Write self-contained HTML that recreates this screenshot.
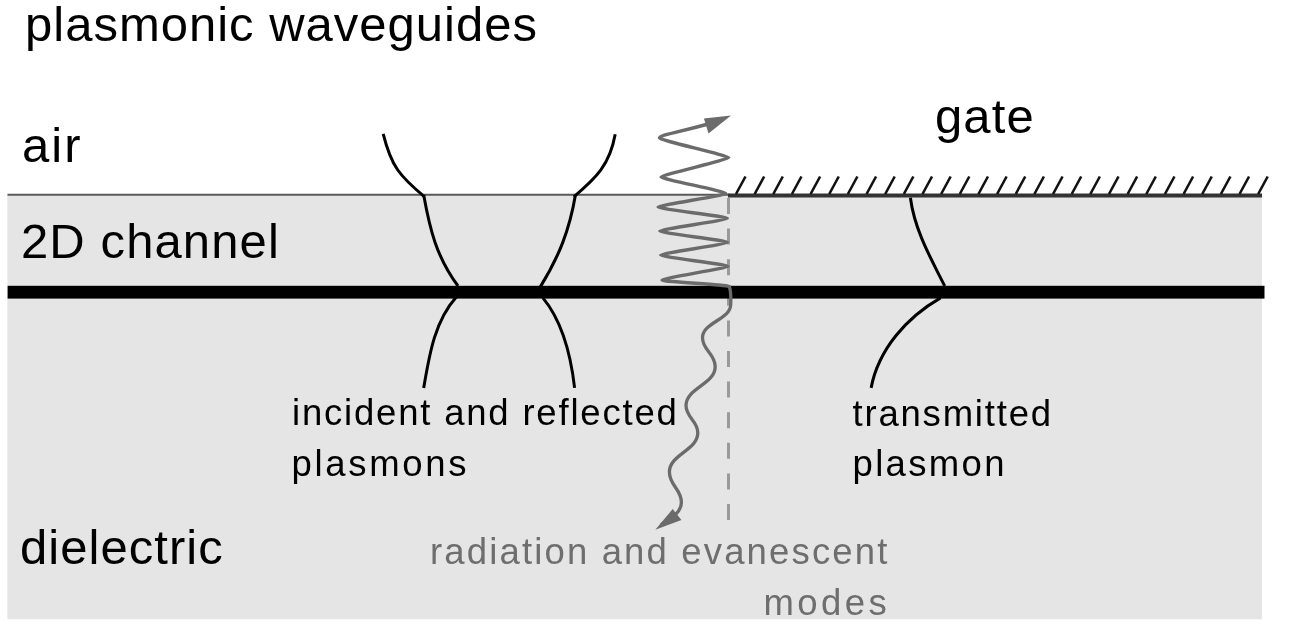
<!DOCTYPE html>
<html><head><meta charset="utf-8">
<style>
html,body{margin:0;padding:0;background:#fff;width:1294px;height:642px;overflow:hidden}
svg{display:block;will-change:transform}
text{font-family:"Liberation Sans",sans-serif}
.big{font-size:49px;fill:#000}
.sm{font-size:36.5px;fill:#000}
.gr{font-size:36.5px;fill:#6e6e6e}
</style></head>
<body>
<svg width="1294" height="642" viewBox="0 0 1294 642">
<rect x="0" y="0" width="1294" height="642" fill="#fff"/>
<rect x="7.4" y="194" width="1254.6" height="425.3" fill="#e5e5e5"/>
<line x1="7.5" y1="194.7" x2="730" y2="194.7" stroke="#5a5a5a" stroke-width="2"/>
<line x1="728" y1="195.5" x2="1262" y2="195.5" stroke="#333" stroke-width="4.2"/>
<g stroke="#111" stroke-width="2.6">
<line x1="736" y1="194" x2="745.5" y2="176.5"/>
<line x1="754.65" y1="194" x2="764.15" y2="176.5"/>
<line x1="773.3" y1="194" x2="782.8" y2="176.5"/>
<line x1="791.95" y1="194" x2="801.45" y2="176.5"/>
<line x1="810.6" y1="194" x2="820.1" y2="176.5"/>
<line x1="829.25" y1="194" x2="838.75" y2="176.5"/>
<line x1="847.9" y1="194" x2="857.4" y2="176.5"/>
<line x1="866.55" y1="194" x2="876.05" y2="176.5"/>
<line x1="885.2" y1="194" x2="894.7" y2="176.5"/>
<line x1="903.85" y1="194" x2="913.35" y2="176.5"/>
<line x1="922.5" y1="194" x2="932" y2="176.5"/>
<line x1="941.15" y1="194" x2="950.65" y2="176.5"/>
<line x1="959.8" y1="194" x2="969.3" y2="176.5"/>
<line x1="978.45" y1="194" x2="987.95" y2="176.5"/>
<line x1="997.1" y1="194" x2="1006.6" y2="176.5"/>
<line x1="1015.75" y1="194" x2="1025.25" y2="176.5"/>
<line x1="1034.4" y1="194" x2="1043.9" y2="176.5"/>
<line x1="1053.05" y1="194" x2="1062.55" y2="176.5"/>
<line x1="1071.7" y1="194" x2="1081.2" y2="176.5"/>
<line x1="1090.35" y1="194" x2="1099.85" y2="176.5"/>
<line x1="1109" y1="194" x2="1118.5" y2="176.5"/>
<line x1="1127.65" y1="194" x2="1137.15" y2="176.5"/>
<line x1="1146.3" y1="194" x2="1155.8" y2="176.5"/>
<line x1="1164.95" y1="194" x2="1174.45" y2="176.5"/>
<line x1="1183.6" y1="194" x2="1193.1" y2="176.5"/>
<line x1="1202.25" y1="194" x2="1211.75" y2="176.5"/>
<line x1="1220.9" y1="194" x2="1230.4" y2="176.5"/>
<line x1="1239.55" y1="194" x2="1249.05" y2="176.5"/>
<line x1="1258.2" y1="194" x2="1267.7" y2="176.5"/>
</g>
<line x1="728.5" y1="197" x2="728.5" y2="520" stroke="#9a9a9a" stroke-width="3" stroke-dasharray="16 14.6" stroke-dashoffset="-1"/>
<rect x="7.6" y="285.8" width="1256.9" height="12.8" fill="#000"/>
<text class="big" x="25" y="40.7" letter-spacing="1">plasmonic waveguides</text>
<text class="big" x="22" y="161.8" letter-spacing="2">air</text>
<text class="big" x="21" y="258" letter-spacing="1.1">2D channel</text>
<text class="big" x="935" y="133" letter-spacing="1.1">gate</text>
<text class="big" x="20" y="563.5" letter-spacing="1.05">dielectric</text>
<text class="sm" x="292" y="424.7" letter-spacing="1.8">incident and reflected</text>
<text class="sm" x="291.5" y="475.8" letter-spacing="2.7">plasmons</text>
<text class="sm" x="852.5" y="425.8" letter-spacing="1.8">transmitted</text>
<text class="sm" x="852.5" y="476" letter-spacing="2.35">plasmon</text>
<text class="gr" x="430" y="564" letter-spacing="2.15">radiation and evanescent</text>
<text class="gr" x="763.5" y="615" letter-spacing="3.4">modes</text>
<g fill="none" stroke="#000" stroke-width="3">
<path d="M383.2 133.8 C391.3 166.4 399.7 176.1 424.6 196.8"/>
<path d="M423.7 195.1 C429.9 229.8 436.6 257.0 458.0 286.0"/>
<path d="M615.2 134.3 C609.8 164.8 596.2 178.0 573.8 196.8"/>
<path d="M575.4 195.1 C569.6 230.1 558.8 256.8 540.3 286.9"/>
<path d="M456.3 297.0 C434.1 321.9 429.2 356.3 423.7 387.9"/>
<path d="M542.9 297.9 C563.6 322.9 571.0 356.4 574.6 387.9"/>
<path d="M910.4 197.7 C914.5 229.7 930.5 257.7 944.7 286.0"/>
<path d="M940.6 297.9 C907.0 317.2 878.6 349.0 871.1 387.9"/>
</g>
<g fill="none" stroke="#6b6b6b" stroke-linejoin="round" stroke-linecap="round">
<path d="M729 286.5 C729 284.7 662 281.8 662 280 C662 278.2 728 268.1 728 266.3 C728 264.5 660.6 256.9 660.6 255.1 C660.6 253.3 727.4 244.1 727.4 242.3 C727.4 240.5 659.7 232.9 659.7 231.1 C659.7 229.3 727.4 220.1 727.4 218.3 C727.4 216.5 658 208.9 658 207.1 C658 205.3 726 195.2 726 193.4 C726 191.6 661 178.8 661 177 C661 175.2 728.8 159.4 728.8 157.6 C728.8 155.8 659.5 140 659.5 138.2 C659.5 135.2 668 135 712 123" stroke-width="3.4"/>
<path d="M729.5 287 C731 292 731 298 730.7 304.5 C730.7 319.35 702.5 322.65 702.5 337.5 C702.5 350.64 715.2 353.56 715.2 366.7 C715.2 384.2 686 388.1 686 405.6 C686 417.8 697.8 420.5 697.8 432.7 C697.8 450.38 669.4 454.31 669.4 472 C669.4 485.73 681.4 488.77 681.4 502.5 C681.4 512 672 518 662 524" stroke-width="3.3"/>
</g>
<polygon points="731,115.6 703.9,118.4 708.5,133.5" fill="#6b6b6b"/>
<polygon points="655.3,529.7 672.7,509 681.4,520" fill="#6b6b6b"/>
</svg>
</body></html>
